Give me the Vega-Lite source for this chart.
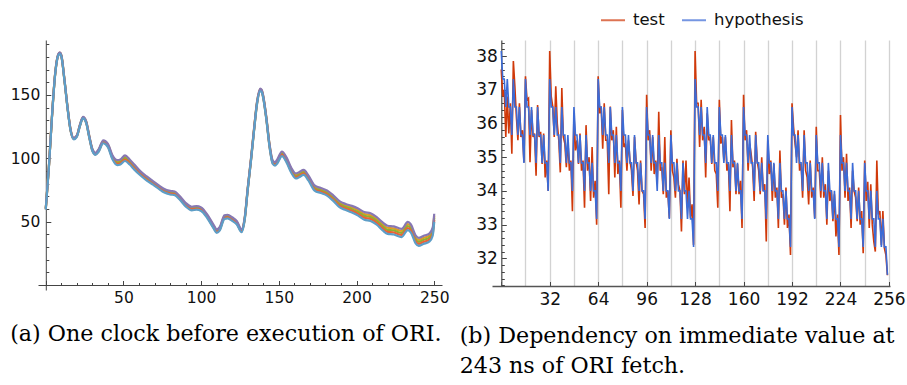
{
"$schema":"https://vega.github.io/schema/vega-lite/v6.json",
"background":"white",
"padding":{"left":10,"top":7,"right":0,"bottom":0},
"bounds":"flush",
"spacing":50,
"config":{"view":{"stroke":null},"title":{"font":"DejaVu Serif","fontWeight":"normal"},"axis":{"labelFont":"DejaVu Sans","labelColor":"#111","domainColor":"#444","tickColor":"#444","domainWidth":1,"tickWidth":1,"grid":false,"labelOverlap":false,"labelFlush":false}},
"datasets":{
"traces":[
{"x":0,"a":60.3,"b":60,"c":59.7,"d":60.6,"e":59.4},
{"x":2,"a":93.3,"b":93,"c":92.7,"d":93.6,"e":92.4},
{"x":4,"a":133.3,"b":133,"c":132.7,"d":133.6,"e":132.4},
{"x":6,"a":166.3,"b":166,"c":165.7,"d":166.6,"e":165.4},
{"x":8,"a":181.8,"b":181.5,"c":181.2,"d":182.1,"e":180.9},
{"x":9,"a":183.3,"b":183,"c":182.7,"d":183.6,"e":182.4},
{"x":10,"a":181.3,"b":181,"c":180.7,"d":181.6,"e":180.4},
{"x":12,"a":162.3,"b":162,"c":161.7,"d":162.6,"e":161.4},
{"x":14,"a":140.3,"b":140,"c":139.7,"d":140.6,"e":139.4},
{"x":16,"a":122.3,"b":122,"c":121.7,"d":122.6,"e":121.4},
{"x":18,"a":115.8,"b":115.5,"c":115.2,"d":116.1,"e":114.9},
{"x":20,"a":117.8,"b":117.5,"c":117.2,"d":118.1,"e":116.9},
{"x":22,"a":126.3,"b":126,"c":125.7,"d":126.6,"e":125.4},
{"x":24,"a":132.3,"b":132,"c":131.7,"d":132.6,"e":131.4},
{"x":26,"a":128.9,"b":128.5,"c":128.1,"d":129.3,"e":127.7},
{"x":28,"a":117.4,"b":117,"c":116.6,"d":117.8,"e":116.2},
{"x":30,"a":106.9,"b":106.5,"c":106.1,"d":107.3,"e":105.7},
{"x":32,"a":103.9,"b":103.5,"c":103.1,"d":104.3,"e":102.7},
{"x":34,"a":106.5,"b":106,"c":105.5,"d":107,"e":105},
{"x":37,"a":113.6,"b":113,"c":112.4,"d":114.2,"e":111.8},
{"x":40,"a":110.7,"b":110,"c":109.3,"d":111.4,"e":108.6},
{"x":43,"a":101.3,"b":100.5,"c":99.7,"d":102.1,"e":98.9},
{"x":46,"a":97.5,"b":96.5,"c":95.5,"d":98.5,"e":94.5},
{"x":48,"a":98,"b":97,"c":96,"d":99,"e":95},
{"x":51,"a":101.1,"b":100,"c":98.9,"d":102.2,"e":97.8},
{"x":54,"a":98,"b":97,"c":96,"d":99,"e":95},
{"x":57,"a":94,"b":93,"c":92,"d":95,"e":91},
{"x":61,"a":88.8,"b":88,"c":87.2,"d":89.6,"e":86.4},
{"x":65,"a":84.8,"b":84,"c":83.2,"d":85.6,"e":82.4},
{"x":69,"a":81.2,"b":80.5,"c":79.8,"d":81.9,"e":79.1},
{"x":73,"a":77.7,"b":77,"c":76.3,"d":78.4,"e":75.6},
{"x":76,"a":75.2,"b":74.5,"c":73.8,"d":75.9,"e":73.1},
{"x":80,"a":73.5,"b":72.8,"c":72.1,"d":74.2,"e":71.4},
{"x":83,"a":73,"b":72.3,"c":71.6,"d":73.7,"e":70.9},
{"x":86,"a":69.7,"b":69,"c":68.3,"d":70.4,"e":67.6},
{"x":90,"a":64.1,"b":63.4,"c":62.7,"d":64.8,"e":62},
{"x":94,"a":61,"b":60.3,"c":59.6,"d":61.7,"e":58.9},
{"x":97,"a":61.5,"b":60.8,"c":60.1,"d":62.2,"e":59.4},
{"x":100,"a":60.5,"b":59.8,"c":59.1,"d":61.2,"e":58.4},
{"x":104,"a":54.7,"b":54,"c":53.3,"d":55.4,"e":52.6},
{"x":108,"a":46.7,"b":46,"c":45.3,"d":47.4,"e":44.6},
{"x":110,"a":43.2,"b":42.5,"c":41.8,"d":43.9,"e":41.1},
{"x":112,"a":45.2,"b":44.5,"c":43.8,"d":45.9,"e":43.1},
{"x":115,"a":54.2,"b":53.5,"c":52.8,"d":54.9,"e":52.1},
{"x":117,"a":54.7,"b":54,"c":53.3,"d":55.4,"e":52.6},
{"x":120,"a":52.7,"b":52,"c":51.3,"d":53.4,"e":50.6},
{"x":123,"a":49.7,"b":49,"c":48.3,"d":50.4,"e":47.6},
{"x":126,"a":43.4,"b":42.8,"c":42.2,"d":44,"e":41.6},
{"x":128,"a":52.5,"b":52,"c":51.5,"d":53,"e":51},
{"x":130,"a":76.5,"b":76,"c":75.5,"d":77,"e":75},
{"x":132,"a":98.5,"b":98,"c":97.5,"d":99,"e":97},
{"x":134,"a":122.5,"b":122,"c":121.5,"d":123,"e":121},
{"x":136,"a":144.5,"b":144,"c":143.5,"d":145,"e":143},
{"x":138,"a":154.5,"b":154,"c":153.5,"d":155,"e":153},
{"x":139,"a":153.5,"b":153,"c":152.5,"d":154,"e":152},
{"x":140,"a":148.5,"b":148,"c":147.5,"d":149,"e":147},
{"x":142,"a":131.5,"b":131,"c":130.5,"d":132,"e":130},
{"x":144,"a":110.6,"b":110,"c":109.4,"d":111.2,"e":108.8},
{"x":146,"a":97.7,"b":97,"c":96.3,"d":98.4,"e":95.6},
{"x":147.5,"a":96.2,"b":95.5,"c":94.8,"d":96.9,"e":94.1},
{"x":149,"a":98.3,"b":97.5,"c":96.7,"d":99.1,"e":95.9},
{"x":152,"a":104.4,"b":103.5,"c":102.6,"d":105.3,"e":101.7},
{"x":155,"a":99.5,"b":98.5,"c":97.5,"d":100.5,"e":96.5},
{"x":158,"a":91.5,"b":90.5,"c":89.5,"d":92.5,"e":88.5},
{"x":161,"a":87,"b":86,"c":85,"d":88,"e":84},
{"x":163,"a":88,"b":87,"c":86,"d":89,"e":85},
{"x":166,"a":89.8,"b":88.8,"c":87.8,"d":90.8,"e":86.8},
{"x":169,"a":85.5,"b":84.5,"c":83.5,"d":86.5,"e":82.5},
{"x":173,"a":77.5,"b":76.5,"c":75.5,"d":78.5,"e":74.5},
{"x":177,"a":75.5,"b":74.5,"c":73.5,"d":76.5,"e":72.5},
{"x":181,"a":73.5,"b":72.5,"c":71.5,"d":74.5,"e":70.5},
{"x":185,"a":69.6,"b":68.5,"c":67.4,"d":70.7,"e":66.3},
{"x":189,"a":65,"b":63.8,"c":62.6,"d":66.2,"e":61.4},
{"x":193,"a":62.7,"b":61.5,"c":60.3,"d":63.9,"e":59.1},
{"x":197,"a":61.1,"b":59.8,"c":58.5,"d":62.4,"e":57.2},
{"x":201,"a":58.9,"b":57.5,"c":56.1,"d":60.3,"e":54.7},
{"x":205,"a":56,"b":54.5,"c":53,"d":57.5,"e":51.5},
{"x":209,"a":55,"b":53.5,"c":52,"d":56.5,"e":50.5},
{"x":213,"a":52,"b":50.5,"c":49,"d":53.5,"e":47.5},
{"x":217,"a":47.6,"b":46,"c":44.4,"d":49.2,"e":42.8},
{"x":220,"a":45.1,"b":43.5,"c":41.9,"d":46.7,"e":40.3},
{"x":224,"a":44.6,"b":43,"c":41.4,"d":46.2,"e":39.8},
{"x":229,"a":42.6,"b":41,"c":39.4,"d":44.2,"e":37.8},
{"x":233,"a":48.1,"b":46.5,"c":44.9,"d":49.7,"e":43.3},
{"x":235,"a":46.1,"b":44.5,"c":42.9,"d":47.7,"e":41.3},
{"x":238,"a":37.6,"b":36,"c":34.4,"d":39.2,"e":32.8},
{"x":240,"a":35.6,"b":34,"c":32.4,"d":37.2,"e":30.8},
{"x":243,"a":37.1,"b":35.5,"c":33.9,"d":38.7,"e":32.3},
{"x":247,"a":39.1,"b":37.5,"c":35.9,"d":40.7,"e":34.3},
{"x":249,"a":43.6,"b":42,"c":40.4,"d":45.2,"e":38.8},
{"x":250,"a":54.6,"b":53,"c":51.4,"d":56.2,"e":49.8}
],
"dep":[
{"x":0,"h":38.15,"t":37.6},{"x":1,"h":37.32,"t":36.8},{"x":2,"h":37.32,"t":37.0},{"x":3,"h":36.49,"t":35.6},{"x":4,"h":37.32,"t":36.8},{"x":5,"h":36.49,"t":35.7},{"x":6,"h":36.49,"t":36.6},{"x":7,"h":35.66,"t":35.1},{"x":8,"h":37.32,"t":37.85},{"x":9,"h":36.49,"t":37.1},{"x":10,"h":36.49,"t":36.2},{"x":11,"h":35.66,"t":35.5},{"x":12,"h":36.49,"t":36.6},{"x":13,"h":35.66,"t":35.6},{"x":14,"h":35.66,"t":35.8},{"x":15,"h":34.83,"t":34.85},
{"x":16,"h":37.32,"t":37.4},{"x":17,"h":36.49,"t":36.7},{"x":18,"h":36.49,"t":36.75},{"x":19,"h":35.66,"t":34.85},{"x":20,"h":36.49,"t":36.4},{"x":21,"h":35.66,"t":35.6},{"x":22,"h":35.66,"t":35.7},{"x":23,"h":34.83,"t":34.45},{"x":24,"h":36.49,"t":36.55},{"x":25,"h":35.66,"t":35.6},{"x":26,"h":35.66,"t":35.75},{"x":27,"h":34.83,"t":34.8},{"x":28,"h":35.66,"t":35.7},{"x":29,"h":34.83,"t":34.4},{"x":30,"h":34.83,"t":34.9},{"x":31,"h":34.0,"t":34.0},
{"x":32,"h":37.32,"t":38.15},{"x":33,"h":36.49,"t":36.8},{"x":34,"h":36.49,"t":36.5},{"x":35,"h":35.66,"t":35.6},{"x":36,"h":36.49,"t":37.1},{"x":37,"h":35.66,"t":36.0},{"x":38,"h":35.66,"t":35.5},{"x":39,"h":34.83,"t":34.55},{"x":40,"h":36.49,"t":37.05},{"x":41,"h":35.66,"t":35.6},{"x":42,"h":35.66,"t":35.4},{"x":43,"h":34.83,"t":34.7},{"x":44,"h":35.66,"t":35.5},{"x":45,"h":34.83,"t":34.6},{"x":46,"h":34.83,"t":34.9},{"x":47,"h":34.0,"t":33.4},
{"x":48,"h":36.49,"t":36.3},{"x":49,"h":35.66,"t":35.2},{"x":50,"h":35.66,"t":35.5},{"x":51,"h":34.83,"t":34.8},{"x":52,"h":35.66,"t":35.7},{"x":53,"h":34.83,"t":34.6},{"x":54,"h":34.83,"t":34.9},{"x":55,"h":34.0,"t":33.5},{"x":56,"h":35.66,"t":35.95},{"x":57,"h":34.83,"t":34.6},{"x":58,"h":34.83,"t":35.0},{"x":59,"h":34.0,"t":33.7},{"x":60,"h":34.83,"t":35.3},{"x":61,"h":34.0,"t":33.8},{"x":62,"h":34.0,"t":34.3},{"x":63,"h":33.17,"t":33.0},
{"x":64,"h":37.32,"t":37.4},{"x":65,"h":36.49,"t":36.3},{"x":66,"h":36.49,"t":36.5},{"x":67,"h":35.66,"t":35.25},{"x":68,"h":36.49,"t":36.6},{"x":69,"h":35.66,"t":35.5},{"x":70,"h":35.66,"t":35.5},{"x":71,"h":34.83,"t":33.9},{"x":72,"h":36.49,"t":36.5},{"x":73,"h":35.66,"t":35.5},{"x":74,"h":35.66,"t":35.8},{"x":75,"h":34.83,"t":34.4},{"x":76,"h":35.66,"t":35.9},{"x":77,"h":34.83,"t":34.5},{"x":78,"h":34.83,"t":34.9},{"x":79,"h":34.0,"t":33.5},
{"x":80,"h":36.49,"t":36.4},{"x":81,"h":35.66,"t":35.3},{"x":82,"h":35.66,"t":35.4},{"x":83,"h":34.83,"t":34.6},{"x":84,"h":35.66,"t":35.5},{"x":85,"h":34.83,"t":34.9},{"x":86,"h":34.83,"t":34.6},{"x":87,"h":34.0,"t":33.85},{"x":88,"h":35.66,"t":35.6},{"x":89,"h":34.83,"t":34.9},{"x":90,"h":34.83,"t":34.6},{"x":91,"h":34.0,"t":33.6},{"x":92,"h":34.83,"t":34.9},{"x":93,"h":34.0,"t":34.0},{"x":94,"h":34.0,"t":33.9},{"x":95,"h":33.17,"t":32.9},
{"x":96,"h":36.49,"t":36.85},{"x":97,"h":35.66,"t":35.5},{"x":98,"h":35.66,"t":35.8},{"x":99,"h":34.83,"t":34.6},{"x":100,"h":35.66,"t":35.6},{"x":101,"h":34.83,"t":34.5},{"x":102,"h":34.83,"t":34.9},{"x":103,"h":34.0,"t":34.2},{"x":104,"h":35.66,"t":36.35},{"x":105,"h":34.83,"t":34.6},{"x":106,"h":34.83,"t":34.7},{"x":107,"h":34.0,"t":33.9},{"x":108,"h":34.83,"t":35.6},{"x":109,"h":34.0,"t":33.8},{"x":110,"h":34.0,"t":34.0},{"x":111,"h":33.17,"t":33.2},
{"x":112,"h":35.66,"t":35.8},{"x":113,"h":34.83,"t":34.6},{"x":114,"h":34.83,"t":34.4},{"x":115,"h":34.0,"t":33.8},{"x":116,"h":34.83,"t":34.95},{"x":117,"h":34.0,"t":34.2},{"x":118,"h":34.0,"t":34.0},{"x":119,"h":33.17,"t":32.8},{"x":120,"h":34.83,"t":34.9},{"x":121,"h":34.0,"t":33.9},{"x":122,"h":34.0,"t":34.9},{"x":123,"h":33.17,"t":33.5},{"x":124,"h":34.0,"t":34.4},{"x":125,"h":33.17,"t":33.2},{"x":126,"h":33.17,"t":33.6},{"x":127,"h":32.34,"t":32.4},
{"x":128,"h":37.32,"t":38.15},{"x":129,"h":36.49,"t":36.6},{"x":130,"h":36.49,"t":36.6},{"x":131,"h":35.66,"t":35.3},{"x":132,"h":36.49,"t":36.7},{"x":133,"h":35.66,"t":35.5},{"x":134,"h":35.66,"t":35.9},{"x":135,"h":34.83,"t":34.4},{"x":136,"h":36.49,"t":36.3},{"x":137,"h":35.66,"t":35.5},{"x":138,"h":35.66,"t":35.6},{"x":139,"h":34.83,"t":34.8},{"x":140,"h":35.66,"t":35.6},{"x":141,"h":34.83,"t":34.6},{"x":142,"h":34.83,"t":34.5},{"x":143,"h":34.0,"t":33.5},
{"x":144,"h":36.49,"t":36.7},{"x":145,"h":35.66,"t":35.4},{"x":146,"h":35.66,"t":35.6},{"x":147,"h":34.83,"t":34.9},{"x":148,"h":35.66,"t":35.6},{"x":149,"h":34.83,"t":34.6},{"x":150,"h":34.83,"t":34.8},{"x":151,"h":34.0,"t":33.4},{"x":152,"h":35.66,"t":36.1},{"x":153,"h":34.83,"t":34.7},{"x":154,"h":34.83,"t":34.9},{"x":155,"h":34.0,"t":33.9},{"x":156,"h":34.83,"t":34.8},{"x":157,"h":34.0,"t":33.9},{"x":158,"h":34.0,"t":34.3},{"x":159,"h":33.17,"t":32.9},
{"x":160,"h":36.49,"t":36.85},{"x":161,"h":35.66,"t":35.5},{"x":162,"h":35.66,"t":35.8},{"x":163,"h":34.83,"t":34.6},{"x":164,"h":35.66,"t":35.4},{"x":165,"h":34.83,"t":35.1},{"x":166,"h":34.83,"t":34.7},{"x":167,"h":34.0,"t":33.7},{"x":168,"h":35.66,"t":35.75},{"x":169,"h":34.83,"t":34.9},{"x":170,"h":34.83,"t":34.6},{"x":171,"h":34.0,"t":33.9},{"x":172,"h":34.83,"t":35.0},{"x":173,"h":34.0,"t":34.0},{"x":174,"h":34.0,"t":34.2},{"x":175,"h":33.17,"t":32.5},
{"x":176,"h":35.66,"t":35.5},{"x":177,"h":34.83,"t":34.5},{"x":178,"h":34.83,"t":34.9},{"x":179,"h":34.0,"t":33.7},{"x":180,"h":34.83,"t":34.8},{"x":181,"h":34.0,"t":33.8},{"x":182,"h":34.0,"t":34.1},{"x":183,"h":33.17,"t":32.9},{"x":184,"h":34.83,"t":35.2},{"x":185,"h":34.0,"t":33.8},{"x":186,"h":34.0,"t":33.9},{"x":187,"h":33.17,"t":33.0},{"x":188,"h":34.0,"t":34.1},{"x":189,"h":33.17,"t":32.9},{"x":190,"h":33.17,"t":33.3},{"x":191,"h":32.34,"t":32.1},
{"x":192,"h":36.49,"t":36.6},{"x":193,"h":35.66,"t":35.9},{"x":194,"h":35.66,"t":35.4},{"x":195,"h":34.83,"t":35.0},{"x":196,"h":35.66,"t":35.8},{"x":197,"h":34.83,"t":34.6},{"x":198,"h":34.83,"t":34.8},{"x":199,"h":34.0,"t":33.8},{"x":200,"h":35.66,"t":35.8},{"x":201,"h":34.83,"t":34.6},{"x":202,"h":34.83,"t":34.4},{"x":203,"h":34.0,"t":33.6},{"x":204,"h":34.83,"t":34.9},{"x":205,"h":34.0,"t":33.8},{"x":206,"h":34.0,"t":34.1},{"x":207,"h":33.17,"t":33.2},
{"x":208,"h":35.66,"t":35.9},{"x":209,"h":34.83,"t":34.6},{"x":210,"h":34.83,"t":34.6},{"x":211,"h":34.0,"t":33.8},{"x":212,"h":34.83,"t":35.0},{"x":213,"h":34.0,"t":33.8},{"x":214,"h":34.0,"t":34.2},{"x":215,"h":33.17,"t":33.0},{"x":216,"h":34.83,"t":34.6},{"x":217,"h":34.0,"t":33.7},{"x":218,"h":34.0,"t":34.0},{"x":219,"h":33.17,"t":33.1},{"x":220,"h":34.0,"t":33.9},{"x":221,"h":33.17,"t":32.65},{"x":222,"h":33.17,"t":33.3},{"x":223,"h":32.34,"t":32.1},
{"x":224,"h":35.66,"t":36.25},{"x":225,"h":34.83,"t":34.6},{"x":226,"h":34.83,"t":35.0},{"x":227,"h":34.0,"t":33.8},{"x":228,"h":34.83,"t":35.1},{"x":229,"h":34.0,"t":33.7},{"x":230,"h":34.0,"t":34.1},{"x":231,"h":33.17,"t":32.9},{"x":232,"h":34.83,"t":34.6},{"x":233,"h":34.0,"t":34.0},{"x":234,"h":34.0,"t":33.8},{"x":235,"h":33.17,"t":33.1},{"x":236,"h":34.0,"t":34.1},{"x":237,"h":33.17,"t":33.0},{"x":238,"h":33.17,"t":33.4},{"x":239,"h":32.34,"t":32.15},
{"x":240,"h":34.83,"t":34.9},{"x":241,"h":34.0,"t":33.7},{"x":242,"h":34.0,"t":34.27},{"x":243,"h":33.17,"t":32.9},{"x":244,"h":34.0,"t":34.2},{"x":245,"h":33.17,"t":33.0},{"x":246,"h":33.17,"t":32.5},{"x":247,"h":32.34,"t":32.2},{"x":248,"h":34.0,"t":34.9},{"x":249,"h":33.17,"t":33.3},{"x":250,"h":33.17,"t":33.4},{"x":251,"h":32.34,"t":32.4},{"x":252,"h":33.17,"t":33.4},{"x":253,"h":32.34,"t":32.3},{"x":254,"h":32.34,"t":32.1},{"x":255,"h":31.51,"t":31.5}
]
},
"hconcat":[
{
"width":404,"height":250,
"data":{"name":"traces"},
"title":{"text":"(a) One clock before execution of ORI.","orient":"bottom","anchor":"start","frame":"bounds","font":"DejaVu Serif","fontSize":22.2,"fontWeight":"normal","color":"#000","offset":15},
"resolve":{"axis":{"y":"independent"}},
"encoding":{"x":{"field":"x","type":"quantitative","scale":{"domain":[-5,255],"nice":false,"zero":false},
"axis":{"title":null,"values":[0,10,20,30,40,50,60,70,80,90,100,110,120,130,140,150,160,170,180,190,200,210,220,230,240,250],"labelExpr":"datum.value > 0 && datum.value % 50 === 0 ? datum.label : ''","labelOverlap":false,"offset":-5,"tickSize":{"condition":{"test":"datum.value % 50 === 0","value":-4.5},"value":-2.5},"labelPadding":10,"labelFontSize":15.5}}},
"layer":[
{"mark":{"type":"line","color":"#E19C24","strokeWidth":2.2,"interpolate":"monotone"},
"encoding":{"y":{"field":"a","type":"quantitative","scale":{"domain":[-4,193.3],"nice":false,"zero":false},
"axis":{"title":null,"orient":"left","values":[50,100,150],"offset":-7.8,"tickSize":-5,"labelPadding":11,"labelFontSize":15.5}}}},
{"mark":{"type":"line","color":"#8FB032","strokeWidth":2.2,"interpolate":"monotone"},"encoding":{"y":{"field":"b","type":"quantitative","axis":null}}},
{"mark":{"type":"line","color":"#EB6235","strokeWidth":2.2,"interpolate":"monotone"},"encoding":{"y":{"field":"c","type":"quantitative","axis":null}}},
{"mark":{"type":"line","color":"#8778B3","strokeWidth":2.2,"interpolate":"monotone"},"encoding":{"y":{"field":"d","type":"quantitative","axis":null}}},
{"mark":{"type":"line","color":"#5D9EC7","strokeWidth":2.2,"interpolate":"monotone"},"encoding":{"y":{"field":"e","type":"quantitative",
"axis":{"title":null,"orient":"left","values":[0,10,20,30,40,60,70,80,90,110,120,130,140,160,170,180,190],"offset":-7.8,"tickSize":-3,"labels":false,"domain":false}}}}
]
},
{
"width":398,"height":246,
"data":{"name":"dep"},
"title":{"text":["(b) Dependency on immediate value at","243 ns of ORI fetch."],"orient":"bottom","anchor":"start","frame":"bounds","font":"DejaVu Serif","fontSize":22.2,"fontWeight":"normal","color":"#000","offset":17,"lineHeight":30,"dx":-16},
"resolve":{"axis":{"y":"independent"}},
"encoding":{"x":{"field":"x","type":"quantitative","scale":{"domain":[-6.1,256.7],"nice":false,"zero":false},
"axis":{"title":null,"values":[0,16,32,48,64,80,96,112,128,144,160,176,192,208,224,240,256],"labelExpr":"datum.value > 0 && datum.value % 32 === 0 ? datum.label : ''","labelOverlap":false,"grid":true,"gridColor":"#d2d2d2","gridWidth":1.3,"gridOpacity":{"condition":{"test":"datum.value === 0","value":0},"value":1},"tickSize":-4.5,"tickOpacity":{"condition":{"test":"datum.value % 32 === 0","value":1},"value":0},"labelPadding":10,"labelFontSize":17,"domainColor":"#555","domainWidth":1.3}}},
"layer":[
{"mark":{"type":"line","strokeWidth":1.6},
"encoding":{"y":{"field":"t","type":"quantitative","scale":{"domain":[31.18,38.475],"nice":false,"zero":false},
"axis":{"title":null,"orient":"left","values":[32,33,34,35,36,37,38],"format":"d","offset":-9.3,"tickSize":-5,"labelPadding":9,"labelFontSize":17,"domainColor":"#555","domainWidth":1.3}},
"color":{"datum":"test","type":"nominal","scale":{"domain":["test","hypothesis"],"range":["#D0390A","#3C6BD6"]},
"legend":{"title":null,"orient":"none","legendX":562,"legendY":-33,"direction":"horizontal","symbolType":"stroke","symbolSize":576,"symbolStrokeWidth":2,"symbolOpacity":0.7,"labelFont":"DejaVu Sans","labelFontSize":16.5,"labelColor":"#111","labelOffset":7,"columnPadding":13}}}},
{"mark":{"type":"line","strokeWidth":1.6},
"encoding":{"y":{"field":"h","type":"quantitative",
"axis":{"title":null,"orient":"left","values":[31.2,31.4,31.6,31.8,32.2,32.4,32.6,32.8,33.2,33.4,33.6,33.8,34.2,34.4,34.6,34.8,35.2,35.4,35.6,35.8,36.2,36.4,36.6,36.8,37.2,37.4,37.6,37.8,38.2,38.4],"offset":-9.3,"tickSize":-3,"labels":false,"domain":false}},"color":{"datum":"hypothesis","type":"nominal"}}}
]
}
]
}
